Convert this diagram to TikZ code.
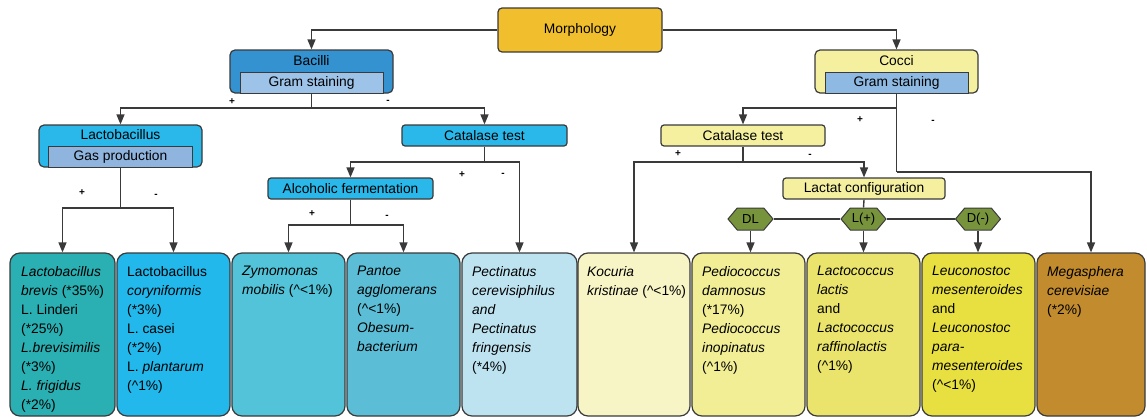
\documentclass[tikz,border=0pt]{standalone}
\usepackage{fontspec}
\setmainfont{Liberation Sans}
\usetikzlibrary{arrows.meta,shapes.symbols}
\definecolor{edge}{HTML}{3A3A3A}
\definecolor{wire}{HTML}{3A3A3A}
\definecolor{morphc}{HTML}{F1BE2E}
\definecolor{bacc}{HTML}{3492D0}
\definecolor{bacsub}{HTML}{9DC3E8}
\definecolor{cyanh}{HTML}{2AB8EA}
\definecolor{gassub}{HTML}{8FB5DF}
\definecolor{paley}{HTML}{F4F0A0}
\definecolor{coccsub}{HTML}{8DB9E2}
\definecolor{hexg}{HTML}{77943C}
\definecolor{c1}{HTML}{2AAFB2}
\definecolor{c2}{HTML}{22B8EC}
\definecolor{c3}{HTML}{52C3D8}
\definecolor{c4}{HTML}{5CBDD6}
\definecolor{c5}{HTML}{BEE3F0}
\definecolor{c6}{HTML}{F7F4C6}
\definecolor{c7}{HTML}{F2EE95}
\definecolor{c8}{HTML}{EAE46C}
\definecolor{c9}{HTML}{E8E040}
\definecolor{c10}{HTML}{C18B2E}
\begin{document}
\begin{tikzpicture}[x=1pt,y=-1pt,
  hfont/.style={font=\fontsize{13.8}{16}\selectfont},
  hdr/.style={hfont,draw=edge,line width=1.2pt,rounded corners=3pt,minimum height=21,inner sep=0pt},
  outerbox/.style={draw=edge,line width=1.2pt,rounded corners=5pt,inner sep=0pt},
  subbox/.style={hfont,draw=edge,line width=1pt,inner sep=0pt,minimum height=21},
  title/.style={hfont,inner sep=0pt},
  leaf/.style={draw=edge,line width=1.2pt,rounded corners=10pt,minimum height=163,inner sep=0pt},
  leaftext/.style={anchor=north west,inner sep=0pt,align=left,font=\fontsize{13.8}{19}\selectfont},
  conn/.style={draw=wire,line width=1.4pt},
  arr/.style={conn,-{Triangle[length=10pt,width=8pt]}},
  sign/.style={font=\fontsize{10}{10}\selectfont\bfseries,inner sep=0pt},
  hexa/.style={signal,signal to=east and west,signal pointer angle=100,draw=edge,fill=hexg,line width=1pt,minimum width=45,minimum height=22,inner sep=0pt,font=\fontsize{13}{14}\selectfont}
]
\useasboundingbox (0,0) rectangle (1147,418);

% top
\node[hdr,fill=morphc,minimum width=164,minimum height=44,rounded corners=4pt] (morph) at (580,30) {Morphology};

% Bacilli
\node[outerbox,fill=bacc,minimum width=163,minimum height=43] (bac) at (311.5,71.5) {};
\node[title] (bact) at (311.5,61) {Bacilli};
\node[subbox,fill=bacsub,minimum width=143] (bacs) at (311.5,82.5) {Gram staining};

% Cocci
\node[outerbox,fill=paley,minimum width=163,minimum height=43] (cocci) at (896.5,71.5) {};
\node[title] (coccit) at (896.5,61) {Cocci};
\node[subbox,fill=coccsub,minimum width=143] (coccis) at (896.5,82.5) {Gram staining};

% Lactobacillus
\node[outerbox,fill=cyanh,minimum width=163,minimum height=42] (lacto) at (120.5,146) {};
\node[title] (lactot) at (120.5,135) {Lactobacillus};
\node[subbox,fill=gassub,minimum width=144] (lactos) at (120.5,156.5) {Gas production};

% tests
\node[hdr,fill=cyanh,minimum width=165] (cat1) at (484.5,135.5) {Catalase test};
\node[hdr,fill=paley,minimum width=164] (cat2) at (743,135.5) {Catalase test};
\node[hdr,fill=cyanh,minimum width=165] (alc) at (350.5,188.5) {Alcoholic fermentation};
\node[hdr,fill=paley,minimum width=162] (lactat) at (864,188.5) {Lactat configuration};

% hexagons
\node[hexa] (hDL) at (750.5,219) {DL};
\node[hexa] (hL) at (863.5,219) {L(+)};
\node[hexa] (hD) at (978,219) {D(-)};

% bottom boxes
\node[leaf,fill=c1,minimum width=105] (b1) at (62.5,334.5) {};
\node[leaf,fill=c2,minimum width=113] (b2) at (173.5,334.5) {};
\node[leaf,fill=c3,minimum width=113] (b3) at (288.5,334.5) {};
\node[leaf,fill=c4,minimum width=113] (b4) at (403.5,334.5) {};
\node[leaf,fill=c5,minimum width=115] (b5) at (519.5,334.5) {};
\node[leaf,fill=c6,minimum width=112] (b6) at (634,334.5) {};
\node[leaf,fill=c7,minimum width=113] (b7) at (748.5,334.5) {};
\node[leaf,fill=c8,minimum width=113] (b8) at (863.5,334.5) {};
\node[leaf,fill=c9,minimum width=113] (b9) at (978.5,334.5) {};
\node[leaf,fill=c10,minimum width=108] (b10) at (1091,334.5) {};

\node[leaftext] (t1) at (21,266) {\textit{Lactobacillus}\\ \textit{brevis} (*35\%)\\ L. Linderi\\ (*25\%)\\ \textit{L.brevisimilis}\\ (*3\%)\\ \textit{L. frigidus}\\ (*2\%)};
\node[leaftext] (t2) at (127,266) {Lactobacillus\\ \textit{coryniformis}\\ (*3\%)\\ L. casei\\ (*2\%)\\ L. \textit{plantarum}\\ (\textasciicircum1\%)};
\node[leaftext] (t3) at (242,266) {\textit{Zymomonas}\\ \textit{mobilis} (\textasciicircum<1\%)};
\node[leaftext] (t4) at (357,266) {\textit{Pantoe}\\ \textit{agglomerans}\\ (\textasciicircum<1\%)\\ \textit{Obesum-}\\ \textit{bacterium}};
\node[leaftext] (t5) at (472,266) {\textit{Pectinatus}\\ \textit{cerevisiphilus}\\ \textit{and}\\ \textit{Pectinatus}\\ \textit{fringensis}\\ (*4\%)};
\node[leaftext] (t6) at (587,266) {\textit{Kocuria}\\ \textit{kristinae} (\textasciicircum<1\%)};
\node[leaftext] (t7) at (702,266) {\textit{Pediococcus}\\ \textit{damnosus}\\ (*17\%)\\ \textit{Pediococcus}\\ \textit{inopinatus}\\ (\textasciicircum1\%)};
\node[leaftext] (t8) at (817,266) {\textit{Lactococcus}\\ \textit{lactis}\\ and\\ \textit{Lactococcus}\\ \textit{raffinolactis}\\ (\textasciicircum1\%)};
\node[leaftext] (t9) at (932,266) {\textit{Leuconostoc}\\ \textit{mesenteroides}\\ and\\ \textit{Leuconostoc}\\ \textit{para-}\\ \textit{mesenteroides}\\ (\textasciicircum<1\%)};
\node[leaftext] (t10) at (1047,266) {\textit{Megasphera}\\ \textit{cerevisiae}\\ (*2\%)};

% junction points
\coordinate (bj) at (311.5,108);
\coordinate (lj) at (120.5,208);
\coordinate (c1j) at (484.5,162);
\coordinate (aj) at (350.5,225);
\coordinate (cj1) at (896.5,108);
\coordinate (cj2) at (896.5,172);
\coordinate (c2j) at (743,162);

% connectors
\draw[arr] (morph.west) -| (bac.north);
\draw[arr] (morph.east) -| (cocci.north);

\draw[conn] (bac.south) -- (bj);
\draw[arr] (bj) -| (lacto.north);
\draw[arr] (bj) -| (cat1.north);

\draw[conn] (lacto.south) -- (lj);
\draw[arr] (lj) -| (b1.north);
\draw[arr] (lj) -| (b2.north);

\draw[conn] (cat1.south) -- (c1j);
\draw[arr] (c1j) -| (alc.north);
\draw[arr] (c1j) -| (b5.north);

\draw[conn] (alc.south) -- (aj);
\draw[arr] (aj) -| (b3.north);
\draw[arr] (aj) -| (b4.north);

\draw[conn] (cocci.south) -- (cj2);
\draw[arr] (cj1) -| (cat2.north);
\draw[arr] (cj2) -| (b10.north);

\draw[conn] (cat2.south) -- (c2j);
\draw[arr] (c2j) -| (b6.north);
\draw[arr] (c2j) -| (lactat.north);

\draw[conn] (lactat.south) -- (hL.north);
\draw[conn] (hDL.east) -- (hL.west);
\draw[conn] (hL.east) -- (hD.west);
\draw[arr] (hDL.south) -- (hDL.south |- b7.north);
\draw[arr] (hL.south) -- (hL.south |- b8.north);
\draw[arr] (hD.south) -- (hD.south |- b9.north);

% signs
\node[sign] (s1p) at (232,102) {+};
\node[sign] (s1m) at (388,102) {-};
\node[sign] (s2p) at (82,193) {+};
\node[sign] (s2m) at (156,196) {-};
\node[sign] (s3p) at (462,175) {+};
\node[sign] (s3m) at (503,175) {-};
\node[sign] (s4p) at (312,214) {+};
\node[sign] (s4m) at (387,217) {-};
\node[sign] (s5p) at (860,120) {+};
\node[sign] (s5m) at (933,122) {-};
\node[sign] (s6p) at (678,154) {+};
\node[sign] (s6m) at (810,156) {-};
\end{tikzpicture}
\end{document}
